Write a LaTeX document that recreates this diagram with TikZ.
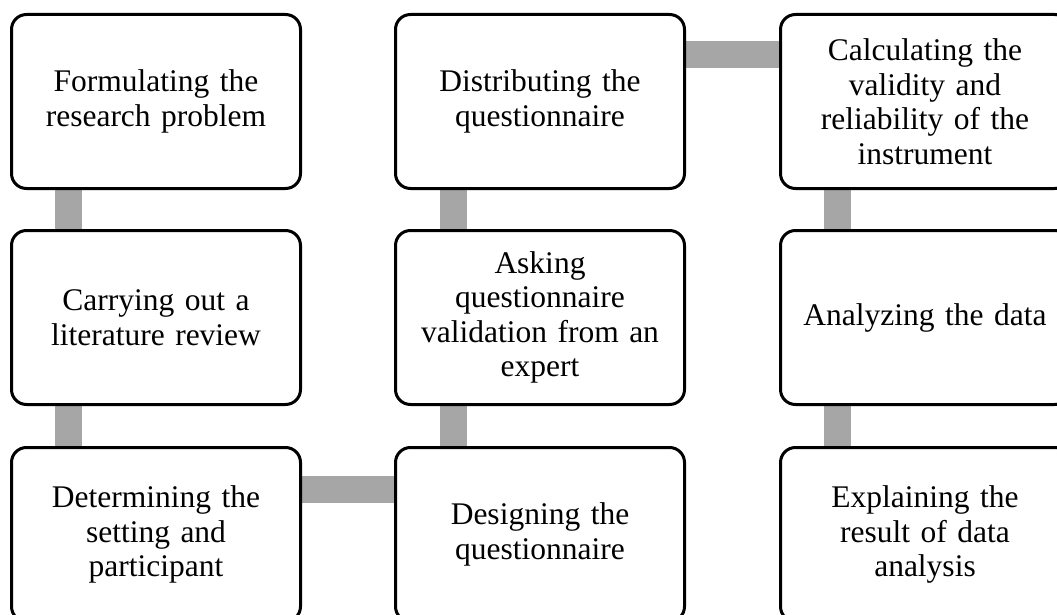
\documentclass[tikz,border=0pt]{standalone}
\usepackage{fontspec}
\setmainfont{Liberation Serif}
\usetikzlibrary{backgrounds}
\definecolor{conngray}{RGB}{166,166,166}
\tikzset{
  x=1pt,y=1pt,
  stepbox/.style={draw=black, line width=3pt, rounded corners=15pt, fill=white,
    minimum width=289pt, minimum height=174pt, inner sep=0pt,
    text width=285pt, align=center, anchor=north west,
    font=\fontsize{31.5}{34.5}\selectfont},
  conn/.style={draw=conngray, line width=27pt, line cap=butt},
}
\begin{document}
\begin{tikzpicture}
\useasboundingbox (0,0) rectangle (1057,-615);
\node[stepbox] (a1) at (10,-13) {Formulating the\\research problem};
\node[stepbox] (a2) at (10,-229) {Carrying out a\\literature review};
\node[stepbox] (a3) at (10,-446) {Determining the\\setting and\\participant};
\node[stepbox] (b3) at (394,-446) {Designing the\\questionnaire};
\node[stepbox] (b2) at (394,-229) {Asking\\questionnaire\\validation from an\\expert};
\node[stepbox] (b1) at (394,-13) {Distributing the\\questionnaire};
\node[stepbox] (c1) at (779,-13) {Calculating the\\validity and\\reliability of the\\instrument};
\node[stepbox] (c2) at (779,-229) {Analyzing the data};
\node[stepbox] (c3) at (779,-446) {Explaining the\\result of data\\analysis};
\begin{scope}[on background layer]
\draw[conn] ([xshift=58.5pt]a1.south west) -- ([xshift=58.5pt]a2.north west);
\draw[conn] ([xshift=58.5pt]a2.south west) -- ([xshift=58.5pt]a3.north west);
\draw[conn] ([yshift=-43.5pt]a3.north east) -- ([yshift=-43.5pt]b3.north west);
\draw[conn] ([xshift=59pt]b3.north west) -- ([xshift=59pt]b2.south west);
\draw[conn] ([xshift=59pt]b2.north west) -- ([xshift=59pt]b1.south west);
\draw[conn] ([yshift=-42pt]b1.north east) -- ([yshift=-42pt]c1.north west);
\draw[conn] ([xshift=58.5pt]c1.south west) -- ([xshift=58.5pt]c2.north west);
\draw[conn] ([xshift=58.5pt]c2.south west) -- ([xshift=58.5pt]c3.north west);
\end{scope}
\end{tikzpicture}
\end{document}
